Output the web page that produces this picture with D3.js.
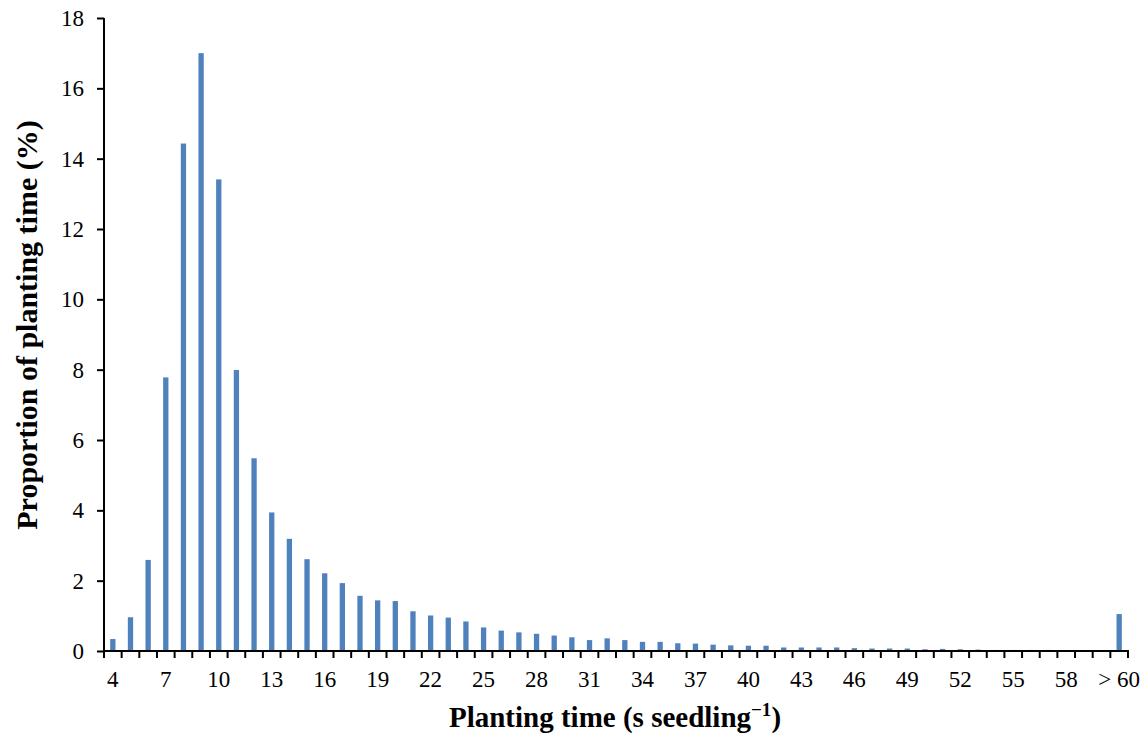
<!DOCTYPE html>
<html>
<head>
<meta charset="utf-8">
<script src="https://cdn.jsdelivr.net/npm/d3@7"></script>
<style>
  html, body { margin: 0; padding: 0; background: #fff; }
  svg { display: block; }
  text { font-family: "Liberation Serif", "Times New Roman", serif; fill: #000; }
</style>
</head>
<body>
<svg id="chart" width="1148" height="737"></svg>
<script>
// Planting time categories (s per seedling), last bin collects everything above 60 s
const categories = [
  "4","5","6","7","8","9","10","11","12","13","14","15","16","17","18","19",
  "20","21","22","23","24","25","26","27","28","29","30","31","32","33","34",
  "35","36","37","38","39","40","41","42","43","44","45","46","47","48","49",
  "50","51","52","53","54","55","56","57","58","59","60","> 60"
];

// Share of plantings in each bin (%)
const proportion = [
  0.34, 0.96, 2.59, 7.78, 14.43, 17.0, 13.41, 7.99, 5.48, 3.94, 3.19, 2.61, 2.21, 1.93, 1.57, 1.44,
  1.42, 1.13, 1.01, 0.95, 0.84, 0.67, 0.58, 0.53, 0.49, 0.44, 0.39, 0.31, 0.36, 0.31, 0.26,
  0.26, 0.22, 0.21, 0.18, 0.16, 0.15, 0.15, 0.10, 0.10, 0.10, 0.10, 0.08, 0.07, 0.07, 0.07,
  0.05, 0.06, 0.05, 0.04, 0.03, 0.03, 0.03, 0.03, 0.02, 0.02, 0.01, 1.05
];

// Category labels shown under the axis
const xTickLabels = ["4","7","10","13","16","19","22","25","28","31","34","37","40","43","46","49","52","55","58","> 60"];

const yTicks = [0, 2, 4, 6, 8, 10, 12, 14, 16, 18];

const margin = { left: 104, right: 20, top: 18, bottom: 86 };
const W = 1148, H = 737;

const svg = d3.select("#chart");

const x = d3.scaleBand()
  .domain(categories)
  .range([margin.left, W - margin.right])
  .paddingInner(0.7)
  .paddingOuter(0.35);

const y = d3.scaleLinear()
  .domain([0, 18])
  .range([H - margin.bottom, margin.top]);

// Bars
svg.append("g")
  .selectAll("rect")
  .data(categories.map((c, i) => ({ c, v: proportion[i] })))
  .join("rect")
  .attr("x", d => x(d.c))
  .attr("width", x.bandwidth())
  .attr("y", d => y(d.v))
  .attr("height", d => y(0) - y(d.v))
  .attr("fill", "#4f81bd");

// Y axis
const yAxis = svg.append("g")
  .attr("transform", `translate(${margin.left},0)`)
  .call(d3.axisLeft(y).tickValues(yTicks).tickSize(7).tickPadding(13).tickSizeOuter(0));
yAxis.select(".domain").attr("stroke", "#000").attr("stroke-width", 2)
  .attr("d", `M0,${y(0)}V${y(18)}`);
yAxis.selectAll(".tick line").attr("stroke", "#000").attr("stroke-width", 2);
yAxis.selectAll(".tick text").attr("font-size", 23).style("font-family", "Liberation Serif");

// X axis: tick marks at every category boundary
const xAxisG = svg.append("g").attr("transform", `translate(0,${y(0)})`);
const boundaries = d3.range(categories.length + 1)
  .map(i => margin.left + i * (W - margin.right - margin.left) / categories.length);
xAxisG.append("line")
  .attr("x1", margin.left - 1).attr("x2", W - margin.right + 1)
  .attr("y1", 0).attr("y2", 0)
  .attr("stroke", "#000").attr("stroke-width", 2);
xAxisG.selectAll("line.tk")
  .data(boundaries)
  .join("line")
  .attr("class", "tk")
  .attr("x1", d => d).attr("x2", d => d)
  .attr("y1", 0).attr("y2", 7)
  .attr("stroke", "#000").attr("stroke-width", 2);

// X category labels
xAxisG.selectAll("text.lbl")
  .data(xTickLabels)
  .join("text")
  .attr("class", "lbl")
  .attr("x", d => x(d) + x.bandwidth() / 2)
  .attr("y", 36)
  .attr("text-anchor", "middle")
  .attr("font-size", 23)
  .text(d => d);

// Axis titles
svg.append("text")
  .attr("x", 615)
  .attr("y", 727)
  .attr("text-anchor", "middle")
  .attr("font-size", 29)
  .attr("font-weight", "bold")
  .call(t => {
    t.append("tspan").text("Planting time (s seedling");
    t.append("tspan").attr("dy", -11).attr("font-size", 19).text("\u22121");
    t.append("tspan").attr("dy", 11).text(")");
  });

svg.append("text")
  .attr("transform", `translate(37,325) rotate(-90)`)
  .attr("text-anchor", "middle")
  .attr("font-size", 30)
  .attr("font-weight", "bold")
  .text("Proportion of planting time (%)");
</script>
</body>
</html>
